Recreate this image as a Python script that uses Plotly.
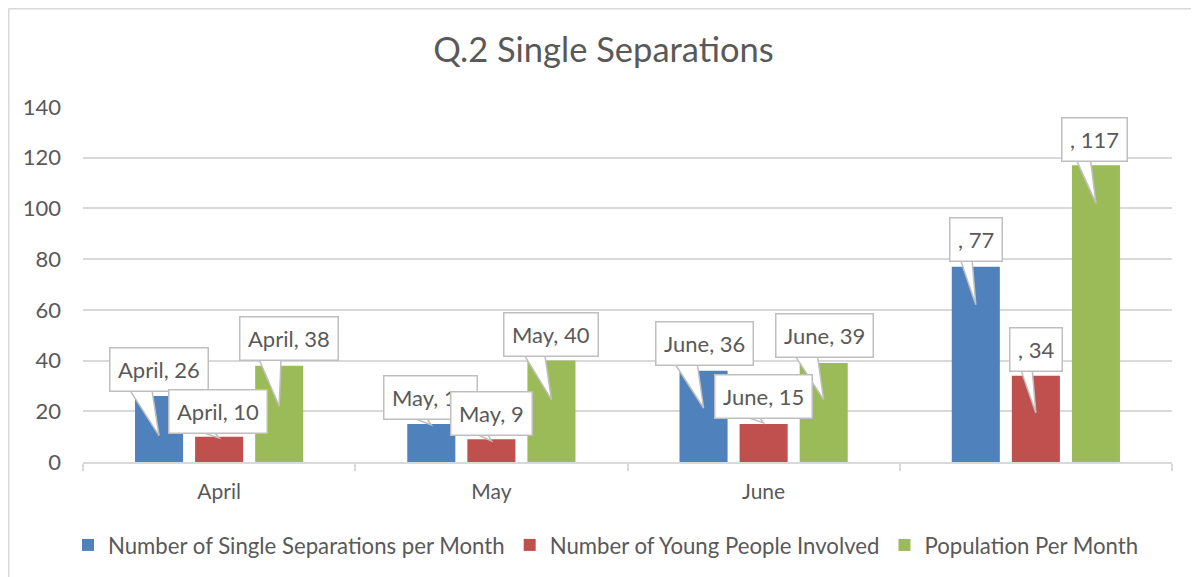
import plotly.graph_objects as go

# ---------------- data ----------------
categories = ["April", "May", "June", " "]
label_names = ["April", "May", "June", ""]
series_names = ["Number of Single Separations per Month",
                "Number of Young People Involved",
                "Population Per Month"]
separations = [26, 15, 36, 77]
young_people = [10, 9, 15, 34]
population = [38, 40, 39, 117]
y_ticks = [0, 20, 40, 60, 80, 100, 120, 140]

# callout tail tips (value where the pointer ends inside each bar)
tip_separations = [10.4, 14.6, 21.3, 62]
tip_young = [9.5, 8.3, 15.4, 19.3]
tip_population = [22, 24.6, 24.5, 102]

# ---------------- styling / layout ----------------
colors = ["#4F81BD", "#C0504D", "#9BBB59"]
TXT = "#595959"
GRID = "#D9D9D9"
FONT = "Lato"
# the page body has an 8px margin, so the figure is sized / placed relative to it
OFF = 8
W, H = 1199 - OFF, 577 - OFF
ML, MR, MT, MB = 83 - OFF, 27, 107 - OFF, 115
PW, PH = W - ML - MR, H - MT - MB
YMAX = 140
BARGAP = 0.338
BARGROUPGAP = 0.2
SUB = (1 - BARGAP) / 3

# callout box offsets (px) relative to the tip: (dx, dy) ; dy negative = up
box_offsets = [
    [(0, -66), (-1, -27), (1, -64), (0, -65)],
    [(-1, -26), (0, -27), (0, -26), (0, -64)],
    [(10, -68), (0, -65), (1, -64), (-1, -64)],
]

values = [separations, young_people, population]
tips = [tip_separations, tip_young, tip_population]

fig = go.Figure()
for name, vals, col in zip(series_names, values, colors):
    fig.add_trace(go.Bar(x=categories, y=vals, name=name,
                         marker=dict(color=col, line=dict(width=0))))

LABEL_FS = 22
BOX_H = 38


def est_width(txt):
    w = 0.0
    for ch in txt:
        if ch.isdigit():
            w += 0.55
        elif ch in ",.":
            w += 0.23
        elif ch == " ":
            w += 0.2
        elif ch.isupper():
            w += 0.66 if ch != "M" else 0.85
        elif ch in "il":
            w += 0.25
        else:
            w += 0.5
    return w * LABEL_FS + 18


def px_to_paper(px, py):
    return (px - ML) / PW, (MT + PH - py) / PH


annotations = []
shapes = []
for i in range(3):
    off = (i - 1) * SUB
    for j in range(4):
        txt = f"{label_names[j]}, {values[i][j]}"
        xv = j + off
        tip = tips[i][j]
        dx, dy = box_offsets[i][j]
        annotations.append(dict(
            x=xv, y=tip, xref="x", yref="y",
            text=txt,
            showarrow=False, xshift=dx, yshift=-dy,
            font=dict(family=FONT, size=LABEL_FS, color=TXT),
            bgcolor="white", bordercolor="#BFBFBF", borderwidth=1.5,
            borderpad=7.5, xanchor="center", yanchor="middle",
        ))
        # wedge pointer
        tx = ML + (xv + 0.5) * PW / 4
        ty = MT + PH - tip * PH / YMAX
        cx, cy = tx + dx, ty + dy
        w = est_width(txt)
        by = cy + BOX_H / 2 - 4
        p0 = px_to_paper(cx - 0.33 * w, by)
        p1 = px_to_paper(cx - 0.08 * w, by)
        pt = px_to_paper(tx, ty)
        path = f"M {p0[0]},{p0[1]} L {pt[0]},{pt[1]} L {p1[0]},{p1[1]} Z"
        shapes.append(dict(type="path", path=path, xref="paper", yref="paper",
                           fillcolor="white", line=dict(color="#BFBFBF", width=1.5),
                           layer="above"))

# outer chart border (top and left visible)
b0 = px_to_paper(0.75, H + 20)
b1 = px_to_paper(W + 20, 0.75)
shapes.insert(0, dict(type="rect", xref="paper", yref="paper",
                      x0=b0[0], y0=b0[1], x1=b1[0], y1=b1[1],
                      line=dict(color=GRID, width=1.5), fillcolor="rgba(0,0,0,0)",
                      layer="below"))

fig.update_layout(
    width=W, height=H,
    margin=dict(l=ML, r=MR, t=MT, b=MB, autoexpand=False),
    paper_bgcolor="white", plot_bgcolor="white",
    barmode="group", bargap=BARGAP, bargroupgap=BARGROUPGAP,
    title=dict(text="Q.2 Single Separations", x=(603.5 - OFF) / W, xref="container",
               xanchor="center", y=1 - (50 - OFF) / H, yref="container", yanchor="middle",
               font=dict(family=FONT, size=34.5, color=TXT)),
    font=dict(family=FONT, color=TXT),
    xaxis=dict(type="category", range=[-0.5, 3.5], showgrid=False,
               showline=True, linecolor=GRID, linewidth=1.5,
               ticks="outside", tickson="boundaries", ticklen=7, tickcolor=GRID,
               tickwidth=1.5, tickfont=dict(family=FONT, size=21, color=TXT),
               ticklabelstandoff=10),
    yaxis=dict(range=[0, YMAX], tickvals=y_ticks, showgrid=True, gridcolor=GRID,
               gridwidth=1.5, zeroline=False, showline=False, ticks="",
               tickfont=dict(family=FONT, size=22, color=TXT),
               ticklabelstandoff=21),
    legend=dict(orientation="h", x=(606 - OFF - ML) / PW, xanchor="center",
                y=(MT + PH - (545 - OFF)) / PH, yanchor="middle",
                font=dict(family=FONT, size=22.2, color=TXT),
                itemwidth=30, traceorder="normal"),
    annotations=annotations,
    shapes=shapes,
)

fig.write_html("out.html")
